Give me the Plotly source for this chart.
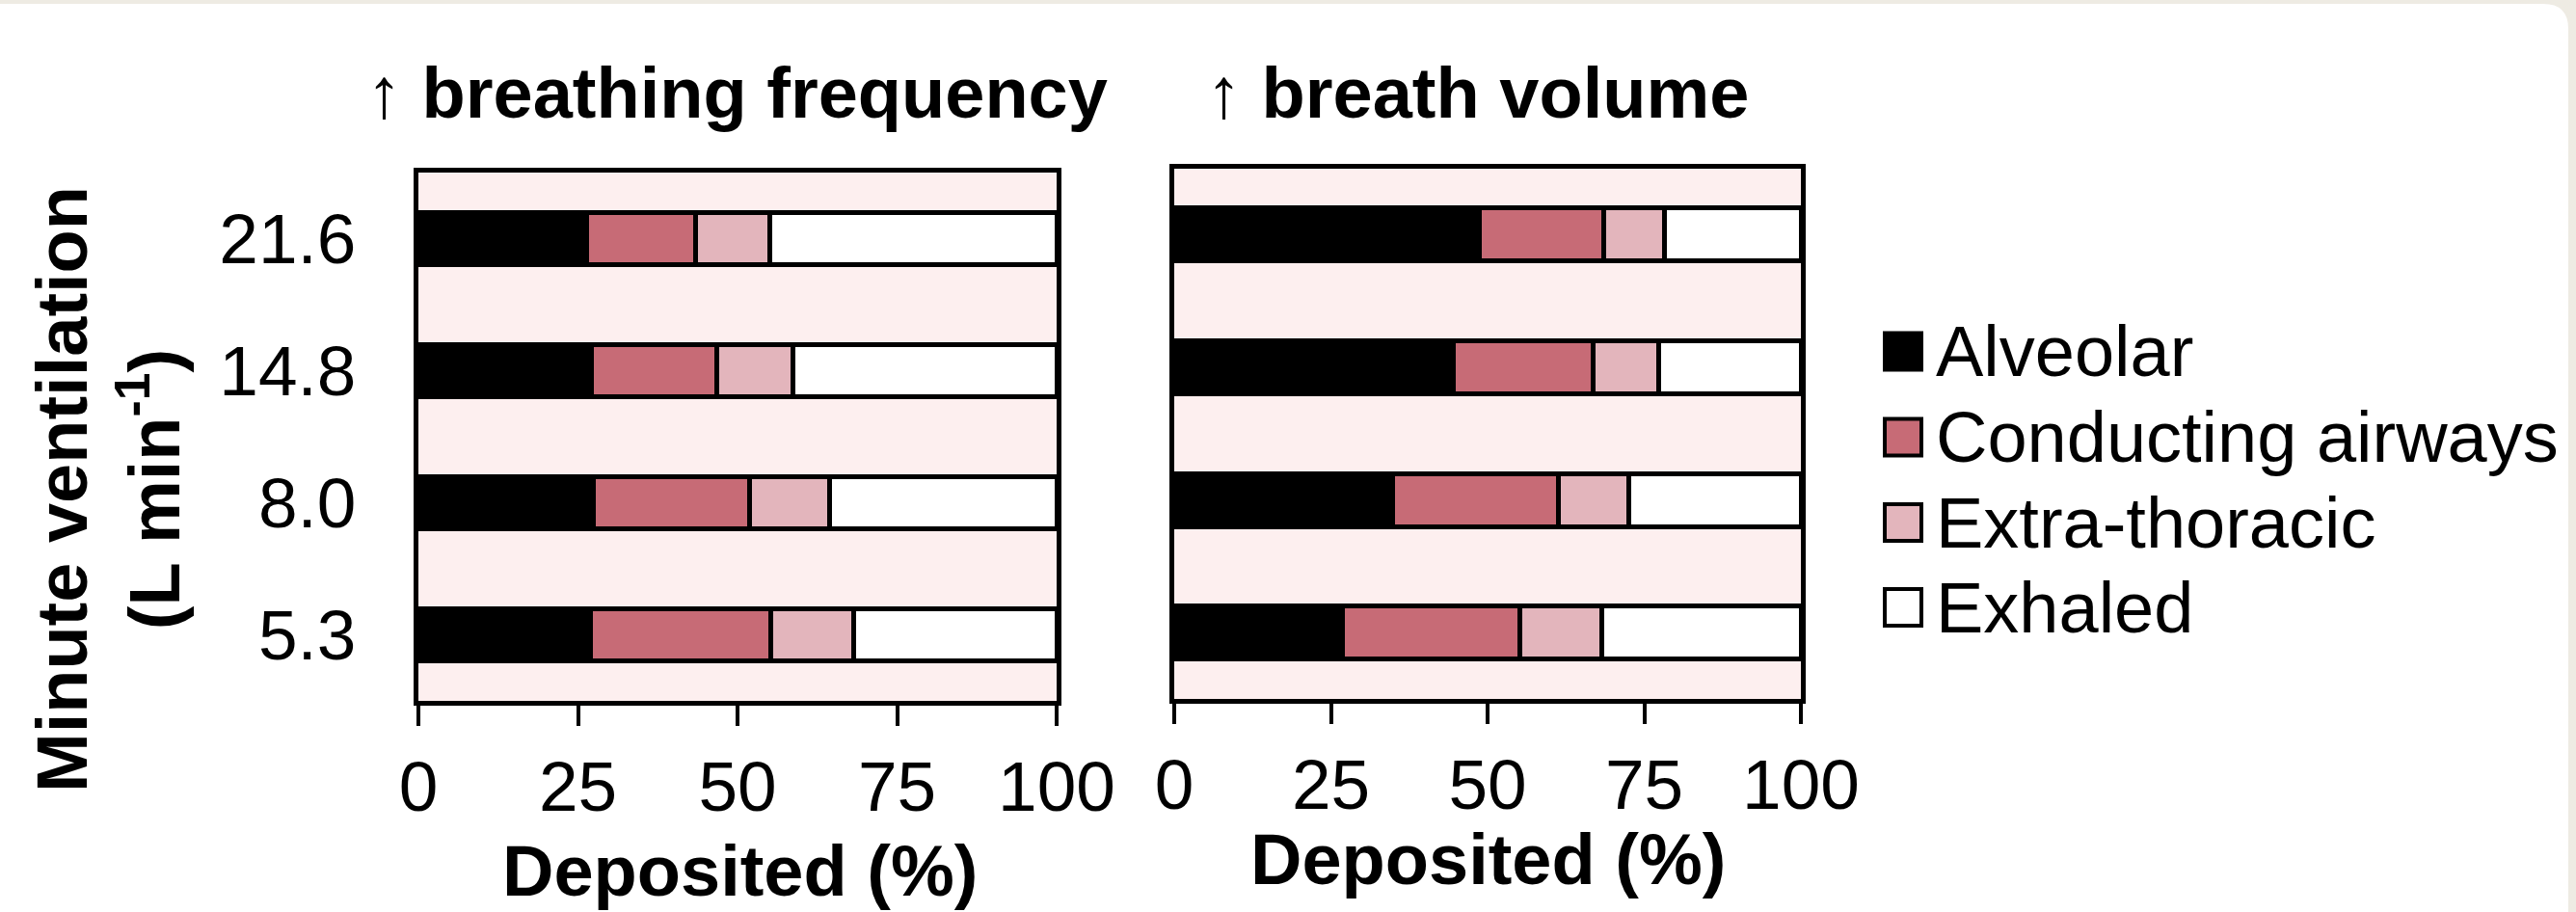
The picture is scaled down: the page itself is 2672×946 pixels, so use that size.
import plotly.graph_objects as go

# ---------------- data ----------------
categories = ["5.3", "8.0", "14.8", "21.6"]          # minute ventilation (L/min), bottom -> top
series_names = ["Alveolar", "Conducting airways", "Extra-thoracic", "Exhaled"]
series_colors = ["#000000", "#c76b76", "#e3b5bc", "#ffffff"]

# left panel: increasing breathing frequency
freq_alveolar = [26.9, 27.4, 27.1, 26.4]
freq_conducting = [28.3, 24.5, 19.6, 17.0]
freq_extrathoracic = [13.0, 12.5, 12.0, 11.6]
freq_exhaled = [31.8, 35.6, 41.3, 45.0]

# right panel: increasing breath volume
vol_alveolar = [26.9, 34.8, 44.6, 48.7]
vol_conducting = [28.3, 26.5, 22.3, 19.8]
vol_extrathoracic = [13.0, 11.3, 10.4, 9.8]
vol_exhaled = [31.8, 27.4, 22.7, 21.7]

x_tick_values = [0, 25, 50, 75, 100]
x_tick_labels = ["0", "25", "50", "75", "100"]
panel_titles = ["↑ <b>breathing frequency</b>", "↑ <b>breath volume</b>"]
x_title = "<b>Deposited (%)</b>"
y_title = "<b>Minute ventilation</b><br><b>(L min<sup>-1</sup>)</b>"

# ---------------- styling ----------------
W, H = 2672, 946
FONT = "Liberation Sans, Arial, sans-serif"
PLOT_BG = "#fdefef"
FRAME_BG = "#eeebe3"
LW = 5


def px_x(p):
    return p / W


def px_y(p):
    return 1 - p / H


fig = go.Figure()

panels = [
    ("x", "y", [freq_alveolar, freq_conducting, freq_extrathoracic, freq_exhaled]),
    ("x2", "y2", [vol_alveolar, vol_conducting, vol_extrathoracic, vol_exhaled]),
]
for xa, ya, series in panels:
    for name, color, vals in zip(series_names, series_colors, series):
        fig.add_trace(go.Bar(
            x=vals, y=categories, orientation="h", name=name,
            marker=dict(color=color, line=dict(color="black", width=LW)),
            width=0.40, xaxis=xa, yaxis=ya, showlegend=False,
            hovertemplate=name + ": %{x}<extra></extra>",
        ))

xcommon = dict(
    range=[0, 100], tickmode="array", tickvals=x_tick_values, ticktext=x_tick_labels,
    ticks="outside", ticklen=21, tickwidth=4, tickcolor="black",
    showline=True, linewidth=LW, linecolor="black", mirror=True,
    showgrid=False, zeroline=False, fixedrange=True, automargin=False,
    tickfont=dict(family=FONT, size=73, color="black"),
    ticklabelstandoff=0,
)
ycommon = dict(
    type="category", categoryorder="array", categoryarray=categories,
    range=[-0.5, 3.5], ticks="", showline=True, linewidth=LW, linecolor="black",
    mirror=True, showgrid=False, zeroline=False, fixedrange=True, automargin=False,
    tickfont=dict(family=FONT, size=73, color="black"),
)

fig.update_layout(
    template="none",
    width=W, height=H, autosize=False,
    margin=dict(l=0, r=0, t=0, b=0, pad=0),
    paper_bgcolor="white", plot_bgcolor=PLOT_BG,
    barmode="stack", bargap=0.6, showlegend=False,
    font=dict(family=FONT, color="black"),
    xaxis=dict(domain=[px_x(434), px_x(1096)], anchor="y", **xcommon),
    yaxis=dict(domain=[px_y(727), px_y(179)], anchor="x", ticklabelstandoff=45, **ycommon),
    xaxis2=dict(domain=[px_x(1218), px_x(1868)], anchor="y2", **xcommon),
    yaxis2=dict(domain=[px_y(725), px_y(174.5)], anchor="x2", showticklabels=False, **ycommon),
)

annotations = []
# panel titles
for txt, cx in zip(panel_titles, [764, 1532]):
    annotations.append(dict(text=txt, x=px_x(cx), y=px_y(97), xref="paper", yref="paper",
                            xanchor="center", yanchor="middle", showarrow=False,
                            font=dict(family=FONT, size=74, color="black")))
# x axis titles
for cx, cy in [(767, 903), (1544, 891)]:
    annotations.append(dict(text=x_title, x=px_x(cx), y=px_y(cy), xref="paper", yref="paper",
                            xanchor="center", yanchor="middle", showarrow=False,
                            font=dict(family=FONT, size=74, color="black")))
# y axis title
annotations.append(dict(text=y_title, x=px_x(112), y=px_y(508), xref="paper", yref="paper",
                        xanchor="center", yanchor="middle", textangle=-90, showarrow=False,
                        font=dict(family=FONT, size=74, color="black")))

shapes = []
# custom legend (large swatches)
legend_centers = [364.5, 453.5, 542, 630]
for name, color, cy in zip(series_names, series_colors, legend_centers):
    shapes.append(dict(type="rect", xref="paper", yref="paper",
                       x0=px_x(1955), x1=px_x(1993), y0=px_y(cy + 19), y1=px_y(cy - 19),
                       fillcolor=color, line=dict(color="black", width=4)))
    annotations.append(dict(text=name, x=px_x(2006), y=px_y(cy), xref="paper", yref="paper",
                            xanchor="left", yanchor="middle", showarrow=False,
                            font=dict(family=FONT, size=74, color="black")))

# beige outer frame with rounded top-right corner
RB = 2664
path = "M {:.5f},{:.5f}".format(px_x(0), px_y(0))
path += " L {:.5f},{:.5f}".format(px_x(W), px_y(0))
path += " L {:.5f},{:.5f}".format(px_x(W), px_y(H))
path += " L {:.5f},{:.5f}".format(px_x(RB), px_y(H))
path += " L {:.5f},{:.5f}".format(px_x(RB), px_y(30))
path += " Q {:.5f},{:.5f} {:.5f},{:.5f}".format(px_x(RB), px_y(4), px_x(RB - 26), px_y(4))
path += " L {:.5f},{:.5f} Z".format(px_x(0), px_y(4))
shapes.append(dict(type="path", path=path, xref="paper", yref="paper",
                   fillcolor=FRAME_BG, line=dict(width=0), layer="below"))

fig.update_layout(annotations=annotations, shapes=shapes)

fig.write_html(
    "out.html",
    config={"displayModeBar": False},
    post_script="document.body.style.margin='0';document.body.style.padding='0';"
                "document.documentElement.style.overflow='hidden';",
)
